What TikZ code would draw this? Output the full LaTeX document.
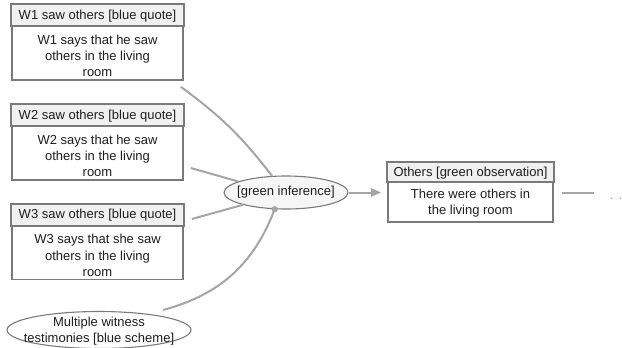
\documentclass[tikz,border=0pt]{standalone}
\usepackage{fontspec}
\setmainfont{Liberation Sans}
\usetikzlibrary{shapes.geometric,arrows.meta}
\definecolor{frame}{HTML}{7A7A7A}
\definecolor{hdr}{HTML}{F0F0F0}
\definecolor{conn}{HTML}{A5A5A5}
\definecolor{txtc}{HTML}{1E1E1E}
\tikzset{
  boxframe/.style={draw=frame, line width=1.6pt, fill=white, inner sep=0pt},
  hdrbar/.style={draw=frame, line width=1.6pt, fill=hdr},
  txt/.style={text=txtc, font=\fontsize{13}{16.3}\selectfont, inner sep=0pt, align=center},
  ell/.style={ellipse, draw=frame, line width=1.1pt, inner sep=0pt},
  link/.style={draw=conn, line width=2pt},
}
\begin{document}
\begin{tikzpicture}[x=1pt,y=-1pt]
\useasboundingbox (0,0) rectangle (622,348);
% W1
\node[boxframe, minimum width=171pt, minimum height=75pt] (w1) at (97.5,42.5) {};
\draw[hdrbar] (w1.north west) rectangle ([yshift=-22pt]w1.north east);
\node[txt] (w1h) at (97.5,16) {W1 saw others [blue quote]};
\node[txt] (w1b) at (97.5,56) {W1 says that he saw\\others in the living\\room};
% W2
\node[boxframe, minimum width=171pt, minimum height=75pt] (w2) at (97.5,142.5) {};
\draw[hdrbar] (w2.north west) rectangle ([yshift=-22pt]w2.north east);
\node[txt] (w2h) at (97.5,116) {W2 saw others [blue quote]};
\node[txt] (w2b) at (97.5,156) {W2 says that he saw\\others in the living\\room};
% W3
\node[boxframe, minimum width=171pt, minimum height=75pt] (w3) at (97.5,242) {};
\draw[hdrbar] (w3.north west) rectangle ([yshift=-22pt]w3.north east);
\node[txt] (w3h) at (97.5,215.5) {W3 saw others [blue quote]};
\node[txt] (w3b) at (97.5,255.5) {W3 says that she saw\\others in the living\\room};
% scheme
\node[ell, fill=white, minimum width=184pt, minimum height=37pt] (sch) at (99,330) {};
\node[txt] (scht) at (99,331) {Multiple witness\\testimonies [blue scheme]};
% inference
\node[ell, fill=hdr!60, minimum width=124pt, minimum height=33pt] (inf) at (286,192.5) {\makebox[0pt][c]{\fontsize{13}{16}\selectfont\color{txtc}[green inference]}};
% Others
\node[boxframe, minimum width=165pt, minimum height=59pt] (oth) at (470.5,192.5) {};
\draw[hdrbar] (oth.north west) rectangle ([yshift=-20pt]oth.north east);
\node[txt] (othh) at (470.5,173) {Others [green observation]};
\node[txt] (othb) at (470.5,203) {There were others in\\the living room};
% connectors
\draw[link] ([xshift=-3pt,yshift=-6pt]w1.south east) to[bend left=8] (inf.130);
\draw[link] ([xshift=7pt,yshift=-25.5pt]w2.east) -- (inf.167);
\draw[link] ([xshift=8pt,yshift=23pt]w3.east) -- (inf.196);
\draw[link] ([xshift=64pt,yshift=20pt]sch.center) to[bend right=27] (inf.236);
\fill[conn] (inf.236) circle (3.2pt);
\draw[link, -{Triangle[length=10pt,width=8pt]}, shorten >=6pt] (inf.east) -- (oth.west);
\coordinate (e1) at (594,192.5);
\draw[link] ([xshift=8pt]oth.east) -- (e1);
\node[text=conn, font=\fontsize{14}{16}\selectfont, inner sep=0pt, anchor=base] (dots) at (616,199) {. .};
\end{tikzpicture}
\end{document}
